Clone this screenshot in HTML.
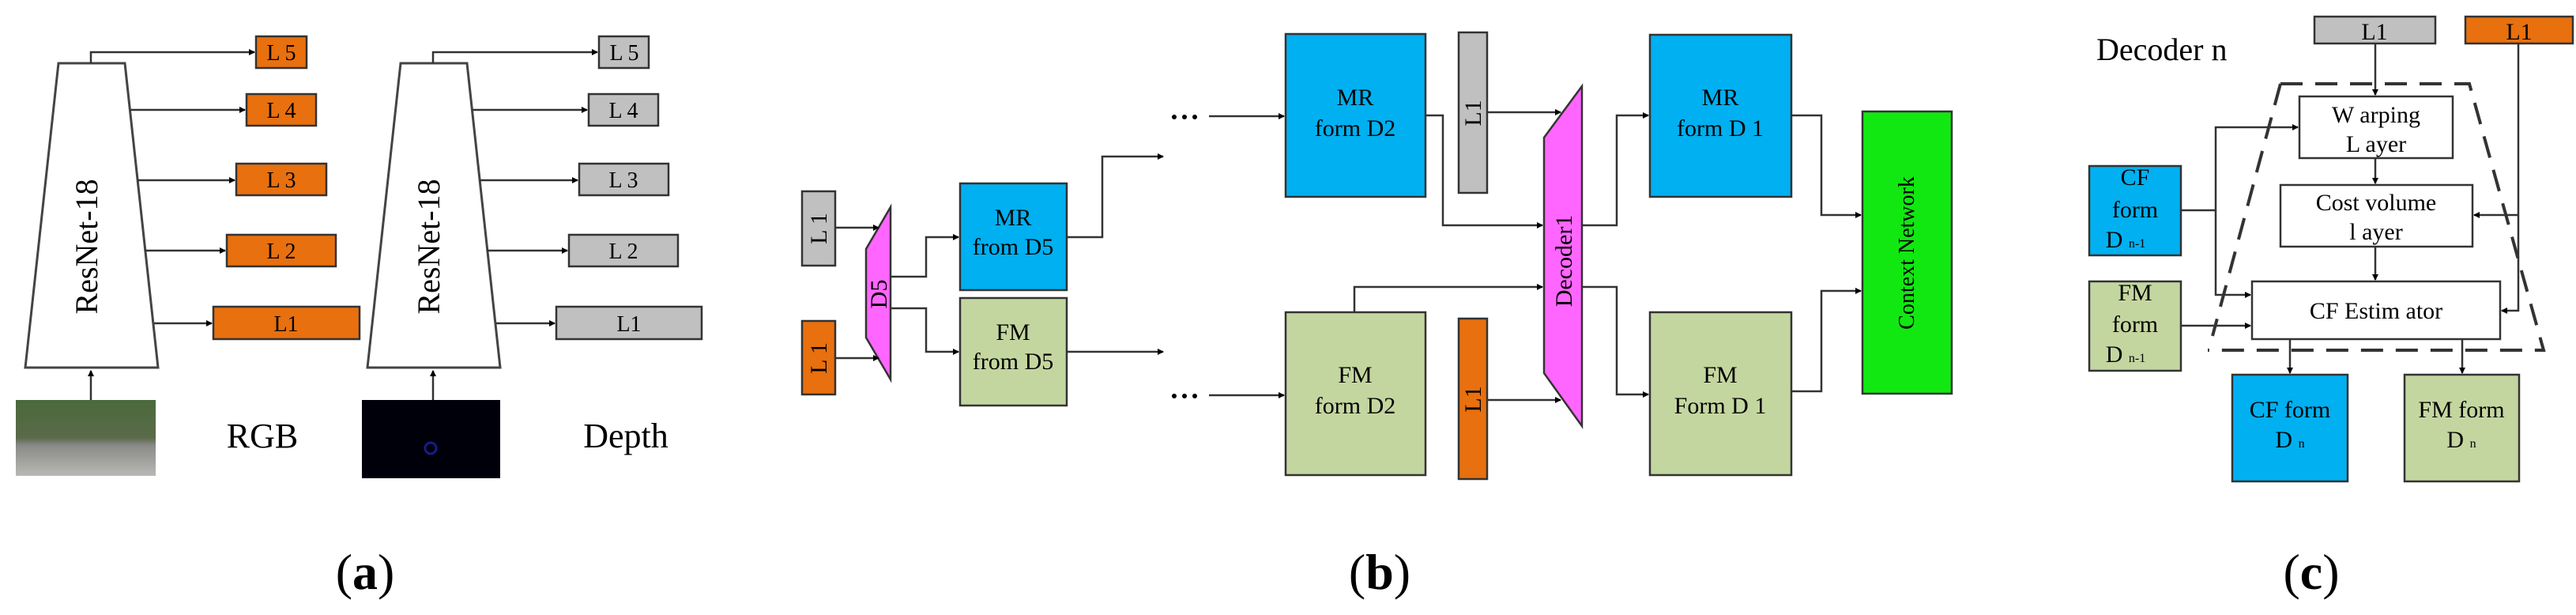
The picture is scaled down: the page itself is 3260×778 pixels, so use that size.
<!DOCTYPE html>
<html><head><meta charset="utf-8"><style>
html,body{margin:0;padding:0;background:#fff;}
svg{display:block;}
text{font-family:"Liberation Serif",serif;fill:#000;}
</style></head><body>
<svg width="3260" height="778" viewBox="0 0 3260 778" xmlns="http://www.w3.org/2000/svg">
<defs>
<marker id="ar" markerWidth="8" markerHeight="8" refX="7" refY="4" orient="auto" markerUnits="userSpaceOnUse">
<path d="M0,0 L8,4 L0,8 z" fill="#000"/></marker>
<linearGradient id="rgb" x1="0" y1="0" x2="0" y2="1">
<stop offset="0" stop-color="#4a6a3a"/><stop offset="0.5" stop-color="#5a6a4a"/><stop offset="0.6" stop-color="#8a8a88"/><stop offset="1" stop-color="#b8b8b4"/></linearGradient>
</defs>
<g stroke="#444" stroke-width="3" fill="none">
<!-- Panel a -->
<polygon points="74,80 158,80 200,465 32,465" fill="#fff"/>
<polygon points="507,80 591,80 633,465 465,465" fill="#fff"/>
</g>
<g stroke="#333" stroke-width="2.5" fill="none" marker-end="url(#ar)">
<polyline points="115,80 115,66 322,66"/>
<line x1="165" y1="139" x2="310" y2="139"/>
<line x1="174" y1="228" x2="297" y2="228"/>
<line x1="183" y1="317" x2="285" y2="317"/>
<line x1="195" y1="409" x2="268" y2="409"/>
<line x1="115" y1="506" x2="115" y2="469"/>
<polyline points="548,80 548,66 756,66"/>
<line x1="598" y1="139" x2="743" y2="139"/>
<line x1="607" y1="228" x2="731" y2="228"/>
<line x1="616" y1="317" x2="718" y2="317"/>
<line x1="628" y1="409" x2="702" y2="409"/>
<line x1="548" y1="506" x2="548" y2="469"/>
</g>
<g stroke="#333" stroke-width="2.5">
<rect x="324" y="46" width="64" height="40" fill="#e8700e"/>
<rect x="312" y="119" width="88" height="40" fill="#e8700e"/>
<rect x="299" y="207" width="114" height="40" fill="#e8700e"/>
<rect x="287" y="297" width="138" height="40" fill="#e8700e"/>
<rect x="270" y="388" width="185" height="41" fill="#e8700e"/>
<rect x="758" y="46" width="63" height="40" fill="#c0c0c0"/>
<rect x="745" y="119" width="88" height="40" fill="#c0c0c0"/>
<rect x="733" y="207" width="113" height="40" fill="#c0c0c0"/>
<rect x="720" y="297" width="138" height="40" fill="#c0c0c0"/>
<rect x="704" y="388" width="184" height="41" fill="#c0c0c0"/>
</g>
<g font-size="28" text-anchor="middle">
<text x="356" y="76">L 5</text><text x="356" y="149">L 4</text><text x="356" y="237">L 3</text><text x="356" y="327">L 2</text><text x="362" y="419">L1</text>
<text x="790" y="76">L 5</text><text x="789" y="149">L 4</text><text x="789" y="237">L 3</text><text x="789" y="327">L 2</text><text x="796" y="419">L1</text>
</g>
<text x="0" y="0" font-size="40" text-anchor="middle" transform="translate(123,312) rotate(-90)">ResNet-18</text>
<text x="0" y="0" font-size="40" text-anchor="middle" transform="translate(556,312) rotate(-90)">ResNet-18</text>
<rect x="20" y="506" width="177" height="96" fill="url(#rgb)"/>
<rect x="458" y="506" width="175" height="99" fill="#00000a"/>
<circle cx="545" cy="567" r="7" fill="none" stroke="#1a1a8a" stroke-width="3"/>
<text x="332" y="566" font-size="44" text-anchor="middle">RGB</text>
<text x="792" y="566" font-size="44" text-anchor="middle">Depth</text>
<text x="462" y="745" font-size="64" text-anchor="middle">(<tspan font-weight="bold">a</tspan>)</text>

<!-- Panel b -->
<g stroke="#333" stroke-width="2.5">
<rect x="1015" y="242" width="42" height="94" fill="#c0c0c0"/>
<rect x="1015" y="406" width="42" height="93" fill="#e8700e"/>
<polygon points="1127,262 1127,480 1096,427 1096,315" fill="#ff66ff"/>
<rect x="1215" y="232" width="135" height="135" fill="#00b0f0"/>
<rect x="1215" y="377" width="135" height="136" fill="#c4d6a0"/>
<rect x="1627" y="43" width="177" height="206" fill="#00b0f0"/>
<rect x="1627" y="395" width="177" height="206" fill="#c4d6a0"/>
<rect x="1846" y="41" width="36" height="203" fill="#c0c0c0"/>
<rect x="1846" y="403" width="36" height="203" fill="#e8700e"/>
<polygon points="2002,109 2002,539 1954,472 1954,174" fill="#ff66ff"/>
<rect x="2088" y="44" width="179" height="205" fill="#00b0f0"/>
<rect x="2088" y="395" width="179" height="206" fill="#c4d6a0"/>
<rect x="2357" y="141" width="113" height="357" fill="#11e811"/>
</g>
<g stroke="#333" stroke-width="2.5" fill="none" marker-end="url(#ar)">
<line x1="1057" y1="288" x2="1112" y2="288"/>
<line x1="1057" y1="453" x2="1112" y2="453"/>
<polyline points="1127,350 1172,350 1172,300 1213,300"/>
<polyline points="1127,390 1172,390 1172,445 1213,445"/>
<polyline points="1350,300 1395,300 1395,198 1472,198"/>
<line x1="1350" y1="445" x2="1472" y2="445"/>
<line x1="1530" y1="147" x2="1625" y2="147"/>
<line x1="1530" y1="500" x2="1625" y2="500"/>
<line x1="1882" y1="142" x2="1975" y2="142"/>
<polyline points="1804,146 1826,146 1826,285 1952,285"/>
<polyline points="1714,395 1714,363 1952,363"/>
<line x1="1882" y1="506" x2="1975" y2="506"/>
<polyline points="2002,285 2046,285 2046,146 2086,146"/>
<polyline points="2002,363 2046,363 2046,499 2086,499"/>
<polyline points="2267,146 2305,146 2305,272 2355,272"/>
<polyline points="2267,495 2305,495 2305,368 2355,368"/>
</g>
<g fill="#000"><circle cx="1486" cy="148" r="3"/><circle cx="1499" cy="148" r="3"/><circle cx="1512" cy="148" r="3"/>
<circle cx="1486" cy="501" r="3"/><circle cx="1499" cy="501" r="3"/><circle cx="1512" cy="501" r="3"/></g>
<g font-size="30" text-anchor="middle">
<text transform="translate(1046,289) rotate(-90)">L 1</text>
<text transform="translate(1046,453) rotate(-90)">L 1</text>
<text transform="translate(1122,372) rotate(-90)">D5</text>
<text x="1282" y="285">MR</text><text x="1282" y="322">from D5</text>
<text x="1282" y="430">FM</text><text x="1282" y="467">from D5</text>
<text x="1715" y="133">MR</text><text x="1715" y="172">form D2</text>
<text x="1715" y="484">FM</text><text x="1715" y="523">form D2</text>
<text transform="translate(1874,143) rotate(-90)">L1</text>
<text transform="translate(1874,505) rotate(-90)">L1</text>
<text transform="translate(1989,330) rotate(-90)">Decoder1</text>
<text x="2177" y="133">MR</text><text x="2177" y="172">form  D 1</text>
<text x="2177" y="484">FM</text><text x="2177" y="523">Form D 1</text>
<text font-size="28" transform="translate(2422,320) rotate(-90)">Context Network</text>
</g>
<text x="1746" y="745" font-size="64" text-anchor="middle">(<tspan font-weight="bold">b</tspan>)</text>

<!-- Panel c -->
<text x="2653" y="76" font-size="40">Decoder n</text>
<polyline points="2886,106 3125,106 3219,443 2794,443" fill="none" stroke="#333" stroke-width="4" stroke-dasharray="28,16"/>
<line x1="2886" y1="106" x2="2800" y2="425" stroke="#333" stroke-width="4" stroke-dasharray="28,16"/>
<g stroke="#333" stroke-width="2.5">
<rect x="2929" y="21" width="153" height="34" fill="#c0c0c0"/>
<rect x="3120" y="21" width="136" height="34" fill="#e8700e"/>
<rect x="2910" y="122" width="194" height="78" fill="#fff"/>
<rect x="2886" y="234" width="243" height="78" fill="#fff"/>
<rect x="2850" y="356" width="314" height="73" fill="#fff"/>
<rect x="2644" y="210" width="116" height="113" fill="#00b0f0"/>
<rect x="2644" y="356" width="116" height="113" fill="#c4d6a0"/>
<rect x="2825" y="474" width="146" height="135" fill="#00b0f0"/>
<rect x="3043" y="474" width="145" height="135" fill="#c4d6a0"/>
</g>
<g stroke="#333" stroke-width="2.5" fill="none" marker-end="url(#ar)">
<line x1="3006" y1="55" x2="3006" y2="120"/>
<line x1="3006" y1="200" x2="3006" y2="232"/>
<line x1="3006" y1="312" x2="3006" y2="354"/>
<polyline points="3187,55 3187,393 3166,393"/>
<line x1="3187" y1="272" x2="3131" y2="272"/>
<polyline points="2760,266 2804,266 2804,161 2908,161"/>
<polyline points="2804,266 2804,373 2848,373"/>
<line x1="2760" y1="412" x2="2848" y2="412"/>
<line x1="2898" y1="429" x2="2898" y2="472"/>
<line x1="3116" y1="429" x2="3116" y2="472"/>
</g>
<g font-size="30" text-anchor="middle">
<text x="3005" y="50">L1</text><text x="3188" y="50">L1</text>
<text x="3007" y="155">W arping</text><text x="3007" y="192">L ayer</text>
<text x="3007" y="266">Cost volume</text><text x="3007" y="303">l ayer</text>
<text x="3007" y="403">CF Estim ator</text>
<text x="2702" y="234">CF</text><text x="2702" y="275">form</text><text x="2690" y="313">D <tspan font-size="16">n-1</tspan></text>
<text x="2702" y="380">FM</text><text x="2702" y="420">form</text><text x="2690" y="458">D <tspan font-size="16">n-1</tspan></text>
<text x="2898" y="528">CF form</text><text x="2898" y="566">D <tspan font-size="16">n</tspan></text>
<text x="3115" y="528">FM form</text><text x="3115" y="566">D <tspan font-size="16">n</tspan></text>
</g>
<text x="2925" y="745" font-size="64" text-anchor="middle">(<tspan font-weight="bold">c</tspan>)</text>
</svg>
</body></html>
